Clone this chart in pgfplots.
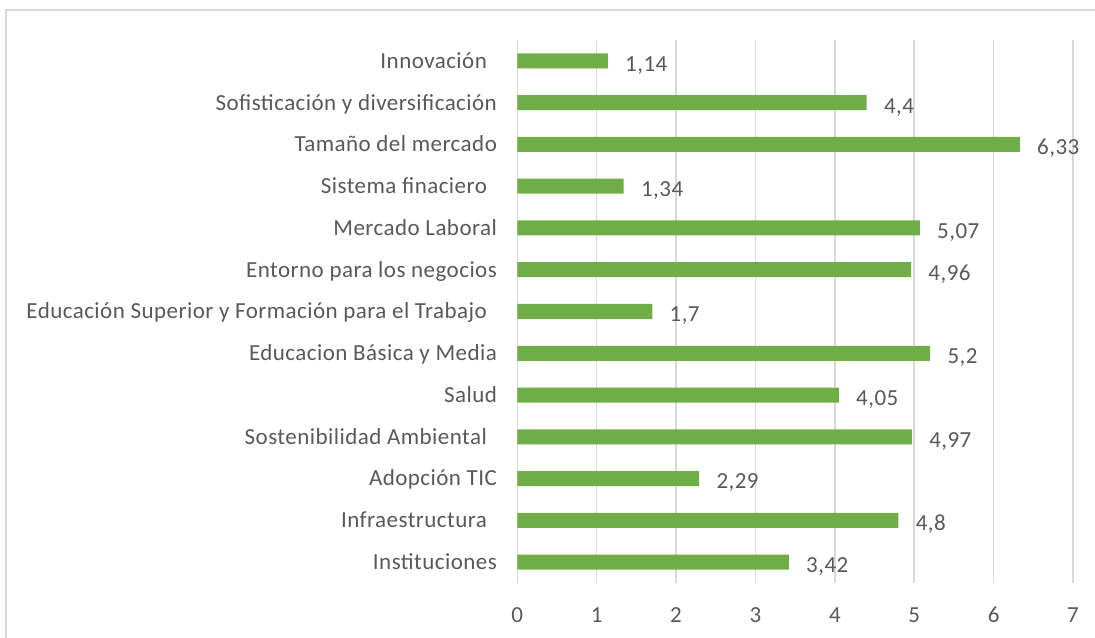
\documentclass[border=0pt]{standalone}
\usepackage{fontspec}
\setmainfont{Carlito}[LetterSpace=2]
\usepackage{pgfplots}
\usepackage{pgfplotstable}
\pgfplotsset{compat=1.18}
\definecolor{barverde}{HTML}{70AD47}
\definecolor{rejilla}{HTML}{D9D9D9}
\definecolor{texto}{HTML}{595959}

% idx 0 = Instituciones (abajo) ... 12 = Innovacion (arriba)
\pgfplotstableread{
idx valor
0  3.42
1  4.8
2  2.29
3  4.97
4  4.05
5  5.2
6  1.7
7  4.96
8  5.07
9  1.34
10 6.33
11 4.4
12 1.14
}\datos

\newcommand{\esp}{\kern5pt}

\begin{document}
\begin{tikzpicture}
\useasboundingbox (0,0) rectangle (547.5pt,318.5pt);
\draw[rejilla, line width=0.75pt] (3pt,-5pt) -- (3pt,313.5pt) -- (560pt,313.5pt);
\begin{axis}[
    at={(258.65pt,27pt)}, anchor=south west,
    width=277.85pt, height=271.5pt, scale only axis,
    xbar, bar width=7.5pt,
    xmin=0, xmax=7, ymin=-0.5, ymax=12.5,
    xtick={0,...,7}, ytick={0,...,12},
    yticklabels={Instituciones,
        Infraestructura\esp,
        Adopción TIC,
        Sostenibilidad Ambiental\esp,
        Salud,
        Educacion Básica y Media,
        Educación Superior y Formación para el Trabajo\esp,
        Entorno para los negocios,
        Mercado Laboral,
        Sistema finaciero\esp,
        Tamaño del mercado,
        Sofisticación y diversificación,
        Innovación\esp},
    axis line style={draw=none},
    major tick length=0pt,
    xmajorgrids, grid style={rejilla, line width=0.75pt},
    ticklabel style={font=\fontsize{11.5pt}{13.5pt}\selectfont, text=texto},
    yticklabel style={anchor=east, inner sep=0pt, xshift=-10pt,
        text height=7.4pt, text depth=0pt},
    xticklabel style={anchor=center, inner sep=0pt, yshift=-16pt,
        text height=7.4pt, text depth=0pt},
    clip=false,
    point meta=x,
    nodes near coords,
    nodes near coords style={anchor=west, inner sep=0pt, xshift=8.5pt,
        yshift=-1.5pt, text height=7.4pt, text depth=0pt,
        font=\fontsize{11.5pt}{13.5pt}\selectfont, text=texto},
    /pgf/number format/use comma,
    /pgf/number format/assume math mode=true,
]
\addplot[fill=barverde, draw=none] table[x=valor, y=idx] {\datos};
\end{axis}
\end{tikzpicture}
\end{document}
